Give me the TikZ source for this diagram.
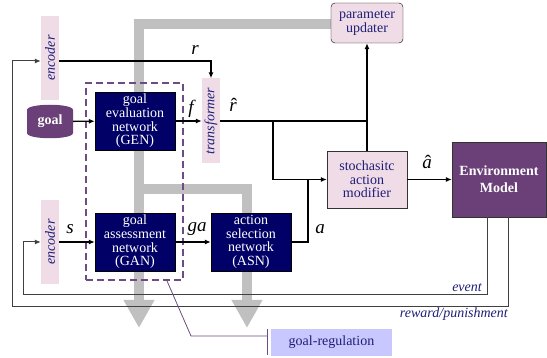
\documentclass[tikz,border=0pt]{standalone}
\usepackage{fontspec}
\usepackage{graphicx}
\setmainfont{Liberation Serif}
\usetikzlibrary{arrows.meta}
\definecolor{navybox}{RGB}{0,0,102}
\definecolor{pinkbox}{RGB}{240,220,230}
\definecolor{purp}{RGB}{107,63,120}
\definecolor{dashp}{RGB}{110,75,130}
\definecolor{txtblue}{RGB}{30,30,120}
\definecolor{grayband}{RGB}{192,192,192}
\definecolor{lav}{RGB}{200,200,255}
\pgfdeclarelayer{background}
\pgfsetlayers{background,main}
\newcommand{\hatit}[1]{\ooalign{\textit{#1}\cr\hidewidth\kern0.12em\upshape ˆ\hidewidth\cr}}
\begin{document}
\begin{tikzpicture}[x=1pt,y=-1pt,
  font=\fontsize{14}{13.7}\selectfont,
  net/.style={draw=black, fill=navybox, text=white, minimum width=80pt, minimum height=58pt, align=center, inner sep=0pt},
  tagbox/.style={fill=pinkbox, text=txtblue, minimum width=18pt, minimum height=84pt, inner sep=0pt, font=\fontsize{14}{14}\selectfont\itshape},
  pinkc/.style={fill=pinkbox, text=txtblue, align=center, inner sep=0pt},
  conn/.style={line width=1.3pt, -{Latex[length=6pt,width=5pt]}},
  plain/.style={line width=1.3pt},
  loopc/.style={line width=1pt, black!75, -{Latex[length=6pt,width=5pt]}},
  band/.style={line width=10pt, grayband, line join=miter, -{Triangle[width=29pt,length=28pt]}},
  lbl/.style={inner sep=0pt, text=black, font=\fontsize{19}{19}\selectfont\itshape},
  blbl/.style={inner sep=0pt, text=txtblue, font=\fontsize{14}{14}\selectfont\itshape},
  regline/.style={line width=0.8pt, dashp}
]
\useasboundingbox (0,0) rectangle (547,358);

% goal cylinder
\path[fill=purp] (27,110) .. controls (27,103) and (73,103) .. (73,110) -- (73,133) .. controls (73,140) and (27,140) .. (27,133) -- cycle;
\node[inner sep=0pt, minimum width=46pt, minimum height=31pt, text=white, font=\fontsize{14}{14}\selectfont\bfseries] (goal) at (50,121.5) {goal};

% boxes
\node[tagbox] (encT) at (50,58) {\rotatebox{90}{encoder}};
\node[tagbox] (encB) at (50,242) {\rotatebox{90}{encoder}};
\node[tagbox, minimum height=85pt] (transf) at (211,121) {\rotatebox{90}{transformer}};
\node[net] (gen) at (135,121) {goal\\evaluation\\network\\(GEN)};
\node[net] (gan) at (135,242) {goal\\assessment\\network\\(GAN)};
\node[net] (asn) at (251,242) {action\\selection\\network\\(ASN)};
\node[pinkc, draw=black, rounded corners=4pt, minimum width=72pt, minimum height=40pt] (upd) at (367,23) {parameter\\updater};
\node[pinkc, draw=black!80, minimum width=80pt, minimum height=57pt] (sam) at (367,179.5) {stochasitc\\action\\modifier};
\node[draw=black!80, fill=purp, text=white, align=center, minimum width=94pt, minimum height=75pt, inner sep=0pt, font=\fontsize{14}{17}\selectfont\bfseries] (env) at (499,179.5) {Environment\\Model};
\node[draw=dashp, line width=1.8pt, dash pattern=on 7pt off 4pt, minimum width=97pt, minimum height=197pt, inner sep=0pt] (gbox) at (134.5,181.5) {};
\node[fill=lav, text=txtblue, minimum width=121pt, minimum height=27pt, inner sep=0pt] (greg) at (331.5,342.5) {goal-regulation};

% gray bands
\begin{pgfonlayer}{background}
\draw[band] ([yshift=-1.5pt]upd.west) -| (139,328);
\draw[band] (139,189) -| (247,328);
\end{pgfonlayer}

% coordinates
\coordinate (j1) at (273,121);
\coordinate (ja) at (308,179.5);
\coordinate (br) at (191,336);

% connectors
\draw[conn] (goal) -- (gen);
\draw[conn] (gen) -- (transf);
\draw[conn] (encB) -- (gan);
\draw[conn] (gan) -- (asn);
\draw[conn] (sam) -- (env);
\draw[conn] (sam) -- (upd);
\draw[plain] (transf) -- (transf -| upd);
\draw[conn] (j1) |- (sam);
\draw[plain] (asn) -| (ja);
\draw[conn] ([yshift=-3pt]encT.east) -| (transf);
\draw[loopc] ([xshift=9pt]env.south) |- (12,307) |- ([yshift=-3pt]encT.west);
\draw[loopc] ([xshift=-12pt]env.south) |- (23,295) |- (encB.west);

% goal-regulation bracket
\draw[regline] ([xshift=32.5pt]gbox.south) -- (br) -- (267,336);
\draw[regline] (267,329) -- (267,355);

% labels
\node[lbl] (lr) at (195,50) {r};
\node[lbl] (lf) at (191,109) {f};
\node[lbl] (lrh) at (233,107) {\hatit{r}};
\node[lbl] (ls) at (70,229) {s};
\node[lbl] (lga) at (197,229) {ga};
\node[lbl] (la) at (320,229) {a};
\node[lbl] (lah) at (427,164) {\hatit{a}};
\node[blbl, anchor=east] (lev) at (482,288) {event};
\node[blbl, anchor=east] (lrw) at (508,314) {reward/punishment};
\end{tikzpicture}
\end{document}
